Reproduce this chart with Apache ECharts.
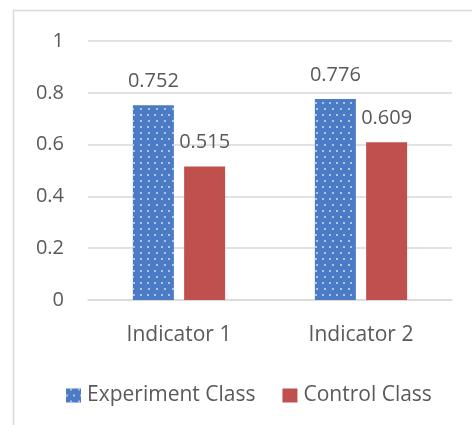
<!DOCTYPE html>
<html><head><meta charset="utf-8">
<script src="https://cdn.jsdelivr.net/npm/echarts@6/dist/echarts.min.js"></script>
<style>html,body{margin:0;padding:0;background:#fff}#c{width:472px;height:425px}</style>
</head><body><div id="c"></div>
<script>
const categories = ['Indicator 1', 'Indicator 2'];
const experimentValues = [0.752, 0.776];
const controlValues = [0.515, 0.609];
const yTicks = [0, 0.2, 0.4, 0.6, 0.8, 1];
const seriesNames = ['Experiment Class', 'Control Class'];

const font = '"Open Sans", "Noto Sans", sans-serif';
const fs = 20;
const chart = echarts.init(document.getElementById('c'), null, {renderer: 'canvas'});
chart.setOption({
  animation: false,
  aria: {enabled: false},
  graphic: [
    {type: 'line', shape: {x1: 13.5, y1: 10, x2: 13.5, y2: 425}, style: {stroke: '#d9d9d9', lineWidth: 1.5}},
    {type: 'line', shape: {x1: 13, y1: 10.5, x2: 472, y2: 10.5}, style: {stroke: '#d9d9d9', lineWidth: 1.5}}
  ],
  grid: {left: 88, right: 20, top: 41, bottom: 125},
  legend: {
    data: seriesNames,
    top: 380,
    left: 61,
    itemWidth: 15,
    itemHeight: 14,
    itemGap: 27,
    icon: 'rect',
    textStyle: {fontFamily: font, fontSize: 21, color: '#595959', padding: [0, 0, 0, 1]}
  },
  xAxis: {
    type: 'category',
    data: categories,
    axisLine: {lineStyle: {color: '#d9d9d9', width: 1.5}},
    axisTick: {show: false},
    axisLabel: {fontFamily: font, fontSize: 21, color: '#595959', margin: 25}
  },
  yAxis: {
    type: 'value',
    min: 0, max: 1, interval: 0.2,
    axisLine: {show: false},
    axisTick: {show: false},
    splitLine: {lineStyle: {color: '#d9d9d9', width: 1.5}},
    axisLabel: {
      fontFamily: font, fontSize: fs, color: '#595959', margin: 24,
      formatter: v => { const t = yTicks.find(x => Math.abs(x - v) < 1e-9); return t === undefined ? '' : String(t); }
    }
  },
  series: [
    {
      name: seriesNames[0], type: 'bar', data: experimentValues,
      barWidth: 41, barGap: '25%',
      itemStyle: {
        color: '#4a7bc4',
        decal: {
          symbol: 'circle', symbolSize: 1,
          color: 'rgba(255,255,255,0.75)',
          dashArrayX: [[2, 5], [0, 3.5, 2, 1.5]],
          dashArrayY: [2, 4],
          rotation: 0
        }
      },
      label: {show: true, position: 'top', distance: 14, fontFamily: font, fontSize: fs, color: '#595959'}
    },
    {
      name: seriesNames[1], type: 'bar', data: controlValues,
      barWidth: 41,
      itemStyle: {color: '#c0504d'},
      label: {show: true, position: 'top', distance: 14, fontFamily: font, fontSize: fs, color: '#595959'}
    }
  ]
});
</script></body></html>
